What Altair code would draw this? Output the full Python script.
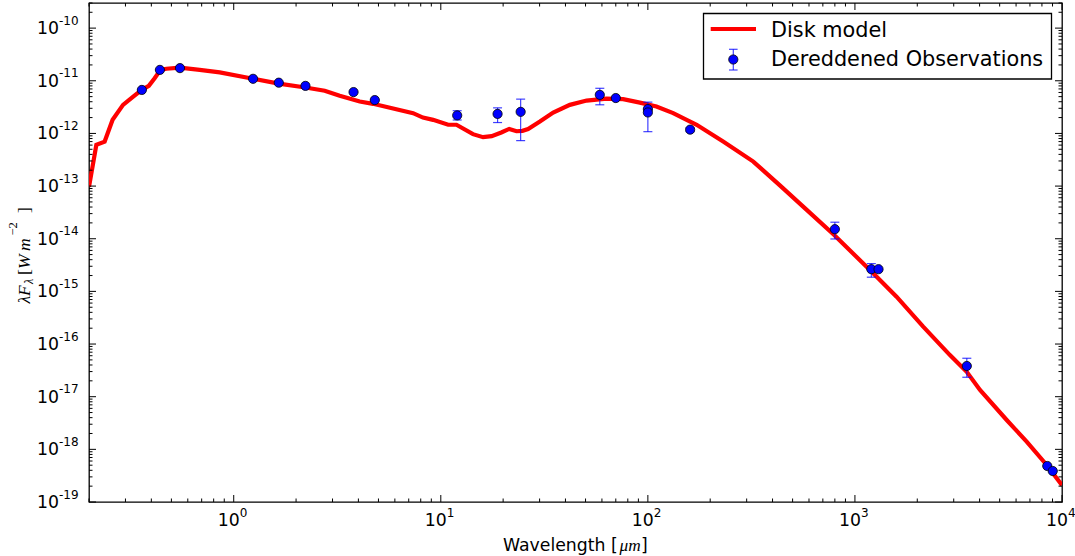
import altair as alt
import pandas as pd

# ---------------- data ----------------
# Disk model curve (wavelength in micron, lambda*F_lambda in W m^-2)
model_wl = [0.2, 0.217, 0.238, 0.26, 0.292, 0.327, 0.36, 0.389, 0.415, 0.443,
            0.473, 0.55, 0.685, 0.856, 1.24, 1.65, 2.22, 2.75, 3.25, 4.06,
            4.71, 7.35, 8.2, 9.18, 10.85, 11.9, 14.3, 16.0, 17.6, 19.6,
            21.4, 23.2, 24.8, 26.4, 30.1, 34.9, 42.0, 50.6, 63.2, 76.0,
            91.5, 110.0, 132.5, 160.0, 172.0, 231.0, 323.0, 434.0, 585.0, 794.0,
            1225.0, 1588.0, 2136.0, 2876.0, 3466.0, 4017.0, 5406.0, 6750.0, 8433.0, 10000.0]
model_flux = [9.66e-14, 6.07e-13, 7.0e-13, 1.82e-12, 3.49e-12, 5.01e-12, 6.73e-12, 8.02e-12, 1.12e-11, 1.61e-11,
              1.69e-11, 1.78e-11, 1.61e-11, 1.44e-11, 1.09e-11, 8.85e-12, 7.45e-12, 6.46e-12, 5.18e-12, 4.03e-12,
              3.65e-12, 2.43e-12, 2.0e-12, 1.81e-12, 1.46e-12, 1.46e-12, 9.68e-13, 8.49e-13, 8.87e-13, 1.04e-12,
              1.22e-12, 1.10e-12, 1.12e-12, 1.21e-12, 1.68e-12, 2.49e-12, 3.49e-12, 4.21e-12, 4.59e-12, 4.48e-12,
              3.85e-12, 3.24e-12, 2.43e-12, 1.68e-12, 1.46e-12, 7.0e-13, 2.92e-13, 1.03e-13, 3.53e-14, 1.18e-14,
              2.21e-15, 7.94e-16, 2.14e-16, 6.17e-17, 2.97e-17, 1.34e-17, 3.61e-18, 1.40e-18, 5.05e-19, 2.07e-19]

# Dereddened observations
obs_wl = [0.36, 0.44, 0.55, 1.24, 1.65, 2.22, 3.79, 4.8, 12.0, 18.8, 24.3,
          58.6, 70.0, 100.0, 100.0, 160.0, 800.0, 1200.0, 1300.0, 3470.0, 8490.0, 9020.0]
obs_flux = [6.7e-12, 1.61e-11, 1.74e-11, 1.09e-11, 9.2e-12, 8.0e-12, 6.1e-12, 4.3e-12, 2.2e-12, 2.35e-12, 2.57e-12,
            5.4e-12, 4.7e-12, 2.9e-12, 2.5e-12, 1.18e-12, 1.52e-14, 2.64e-15, 2.64e-15, 3.83e-17, 4.83e-19, 3.88e-19]
obs_lo = [6.7e-12, 1.61e-11, 1.74e-11, 1.09e-11, 9.2e-12, 8.0e-12, 6.1e-12, 4.3e-12, 1.8e-12, 1.61e-12, 7.3e-13,
          3.5e-12, 4.7e-12, 2.9e-12, 1.08e-12, 1.08e-12, 9.9e-15, 1.86e-15, 2.64e-15, 2.34e-17, 4.83e-19, 3.88e-19]
obs_hi = [6.7e-12, 1.61e-11, 1.74e-11, 1.09e-11, 9.2e-12, 8.0e-12, 6.1e-12, 4.3e-12, 2.7e-12, 3.06e-12, 4.48e-12,
          7.2e-12, 4.7e-12, 2.9e-12, 3.93e-12, 1.28e-12, 2.06e-14, 3.37e-15, 2.64e-15, 5.37e-17, 4.83e-19, 3.88e-19]

# axis ticks and labels
x_major = [1, 10, 100, 1000, 10000]
x_exp = ["0", "1", "2", "3", "4"]
y_major = [1e-10, 1e-11, 1e-12, 1e-13, 1e-14, 1e-15, 1e-16, 1e-17, 1e-18, 1e-19]
y_exp = ["-10", "-11", "-12", "-13", "-14", "-15", "-16", "-17", "-18", "-19"]
minor_mult = [2, 3, 4, 5, 6, 7, 8, 9]

legend_labels = ["Disk model", "Dereddened Observations"]
x_title_parts = ["Wavelength [", "\u03bcm", "]"]

# ---------------- chart ----------------
W, H = 973, 499
X_DOM = [0.2, 10000]
Y_DOM = [1e-19, 3e-10]
xs = alt.Scale(type="log", domain=X_DOM, nice=False)
ys = alt.Scale(type="log", domain=Y_DOM, nice=False)

def X(field="wl"):
    return alt.X(f"{field}:Q", scale=xs, axis=None)

def Y(field="f"):
    return alt.Y(f"{field}:Q", scale=ys, axis=None)

model_df = pd.DataFrame({"wl": model_wl, "f": model_flux})
obs_df = pd.DataFrame({"wl": obs_wl, "f": obs_flux, "lo": obs_lo, "hi": obs_hi})

x_minor = [m * 10.0 ** k for k in range(-1, 4) for m in minor_mult]
x_minor = [v for v in x_minor if X_DOM[0] <= v <= X_DOM[1]]
y_minor = [m * 10.0 ** k for k in range(-19, -9) for m in minor_mult]
y_minor = [v for v in y_minor if Y_DOM[0] <= v <= Y_DOM[1]]

xmaj_df = pd.DataFrame({"wl": x_major, "e": x_exp})
ymaj_df = pd.DataFrame({"f": y_major, "e": y_exp})
xmin_df = pd.DataFrame({"wl": x_minor})
ymin_df = pd.DataFrame({"f": y_minor})

one = pd.DataFrame({"a": [0]})

RED = "#ff0000"
BLUE = "#0000ff"
FONT = "DejaVu Sans"
MATH = "Liberation Serif"

line = alt.Chart(model_df).mark_line(color=RED, strokeWidth=4.2, clip=True).encode(
    x=X(), y=Y(), order="wl:Q")

ebar = alt.Chart(obs_df).mark_rule(color=BLUE, strokeWidth=1.2, opacity=0.75).encode(
    x=X(), y=Y("lo"), y2="hi:Q")
cap_lo = alt.Chart(obs_df).mark_tick(color=BLUE, orient="horizontal", size=9, thickness=1.2, opacity=0.75).encode(
    x=X(), y=Y("lo"))
cap_hi = alt.Chart(obs_df).mark_tick(color=BLUE, orient="horizontal", size=9, thickness=1.2, opacity=0.75).encode(
    x=X(), y=Y("hi"))
pts = alt.Chart(obs_df).mark_point(shape="circle", filled=True, fill=BLUE, stroke="black",
                                   strokeWidth=0.8, size=85, opacity=1).encode(x=X(), y=Y())

MAJ, MIN = 7, 3.5
tick_layers = []
for df, ln in ((xmaj_df, MAJ), (xmin_df, MIN)):
    tick_layers.append(alt.Chart(df).mark_rule(color="black", strokeWidth=1).encode(
        x=X(), y=alt.value(H), y2=alt.value(H - ln)))
    tick_layers.append(alt.Chart(df).mark_rule(color="black", strokeWidth=1).encode(
        x=X(), y=alt.value(0), y2=alt.value(ln)))
for df, ln in ((ymaj_df, MAJ), (ymin_df, MIN)):
    tick_layers.append(alt.Chart(df).mark_rule(color="black", strokeWidth=1).encode(
        y=Y(), x=alt.value(0), x2=alt.value(ln)))
    tick_layers.append(alt.Chart(df).mark_rule(color="black", strokeWidth=1).encode(
        y=Y(), x=alt.value(W), x2=alt.value(W - ln)))

# tick labels: "10" with superscript exponent
xl_base = alt.Chart(xmaj_df).mark_text(font=FONT, fontSize=17.3, align="right", baseline="alphabetic",
                                       dx=6, color="black").encode(
    x=X(), y=alt.value(H + 24), text=alt.value("10"))
xl_exp = alt.Chart(xmaj_df).mark_text(font=FONT, fontSize=12, align="left", baseline="alphabetic",
                                      dx=6, color="black").encode(
    x=X(), y=alt.value(H + 15), text="e:N")
yl_base = alt.Chart(ymaj_df).mark_text(font=FONT, fontSize=17.3, align="right", baseline="alphabetic",
                                       dy=6, color="black").encode(
    y=Y(), x=alt.value(-30), text=alt.value("10"))
yl_exp = alt.Chart(ymaj_df).mark_text(font=FONT, fontSize=12, align="left", baseline="alphabetic",
                                      dy=-3.3, color="black").encode(
    y=Y(), x=alt.value(-30), text="e:N")

def txt(s, x, y, size=17.3, font=FONT, style="normal", align="left", angle=0):
    kw = dict(font=font, fontSize=size, align=align, baseline="alphabetic", color="black", fontStyle=style)
    if angle:
        kw["angle"] = angle
    return alt.Chart(one).mark_text(**kw).encode(
        x=alt.value(x), y=alt.value(y), text=alt.value(s))

# x-axis title
x_title = [
    txt(x_title_parts[0], 414, H + 48.5),
    txt(x_title_parts[1], 530.5, H + 48.5, font=MATH, style="italic"),
    txt(x_title_parts[2], 552, H + 48.5),
]
# y-axis title: lambda F_lambda [ W m^-2 ]
y_title = [
    txt("\u03bbF", -59.5, 300.5, size=17.5, font=MATH, style="italic", angle=270),
    txt("\u03bb", -56.5, 281, size=12, font=MATH, style="italic", angle=270),
    txt("[", -59.5, 272, size=17.5, font=MATH, angle=270),
    txt("W", -59.5, 266, size=17.5, font=MATH, style="italic", angle=270),
    txt("m", -59.5, 248, size=17.5, font=MATH, style="italic", angle=270),
    txt("\u22122", -72, 232.5, size=12.5, font=MATH, angle=270),
    txt("]", -59.5, 210, size=17.5, font=MATH, angle=270),
]

# legend
leg_box = alt.Chart(one).mark_rect(fill="white", stroke="black", strokeWidth=1.3).encode(
    x=alt.value(614.5), x2=alt.value(962.5), y=alt.value(10.5), y2=alt.value(76))
leg_line = alt.Chart(one).mark_rule(color=RED, strokeWidth=4.2).encode(
    x=alt.value(621.7), x2=alt.value(667), y=alt.value(26))
leg_eb = alt.Chart(one).mark_rule(color=BLUE, strokeWidth=1.2, opacity=0.75).encode(
    x=alt.value(644.3), y=alt.value(46.3), y2=alt.value(67))
leg_cap1 = alt.Chart(one).mark_rule(color=BLUE, strokeWidth=1.2, opacity=0.75).encode(
    x=alt.value(640), x2=alt.value(648.6), y=alt.value(46.3))
leg_cap2 = alt.Chart(one).mark_rule(color=BLUE, strokeWidth=1.2, opacity=0.75).encode(
    x=alt.value(640), x2=alt.value(648.6), y=alt.value(67))
leg_pt = alt.Chart(one).mark_point(shape="circle", filled=True, fill=BLUE, stroke="black",
                                   strokeWidth=0.8, size=85, opacity=1).encode(
    x=alt.value(644.3), y=alt.value(56.5))
leg_t1 = txt(legend_labels[0], 682, 33.5, size=20.8)
leg_t2 = txt(legend_labels[1], 682, 63, size=20.8)

chart = alt.layer(
    line, ebar, cap_lo, cap_hi, pts,
    *tick_layers,
    xl_base, xl_exp, yl_base, yl_exp,
    *x_title, *y_title,
    leg_box, leg_line, leg_eb, leg_cap1, leg_cap2, leg_pt, leg_t1, leg_t2,
).properties(
    width=W, height=H,
    autosize=alt.AutoSizeParams(type="none"),
    padding={"left": 89, "top": 3, "right": 13, "bottom": 54},
).configure_view(stroke="black", strokeWidth=1.3)

chart.save("out.html", embed_options={"renderer": "svg", "actions": False})
